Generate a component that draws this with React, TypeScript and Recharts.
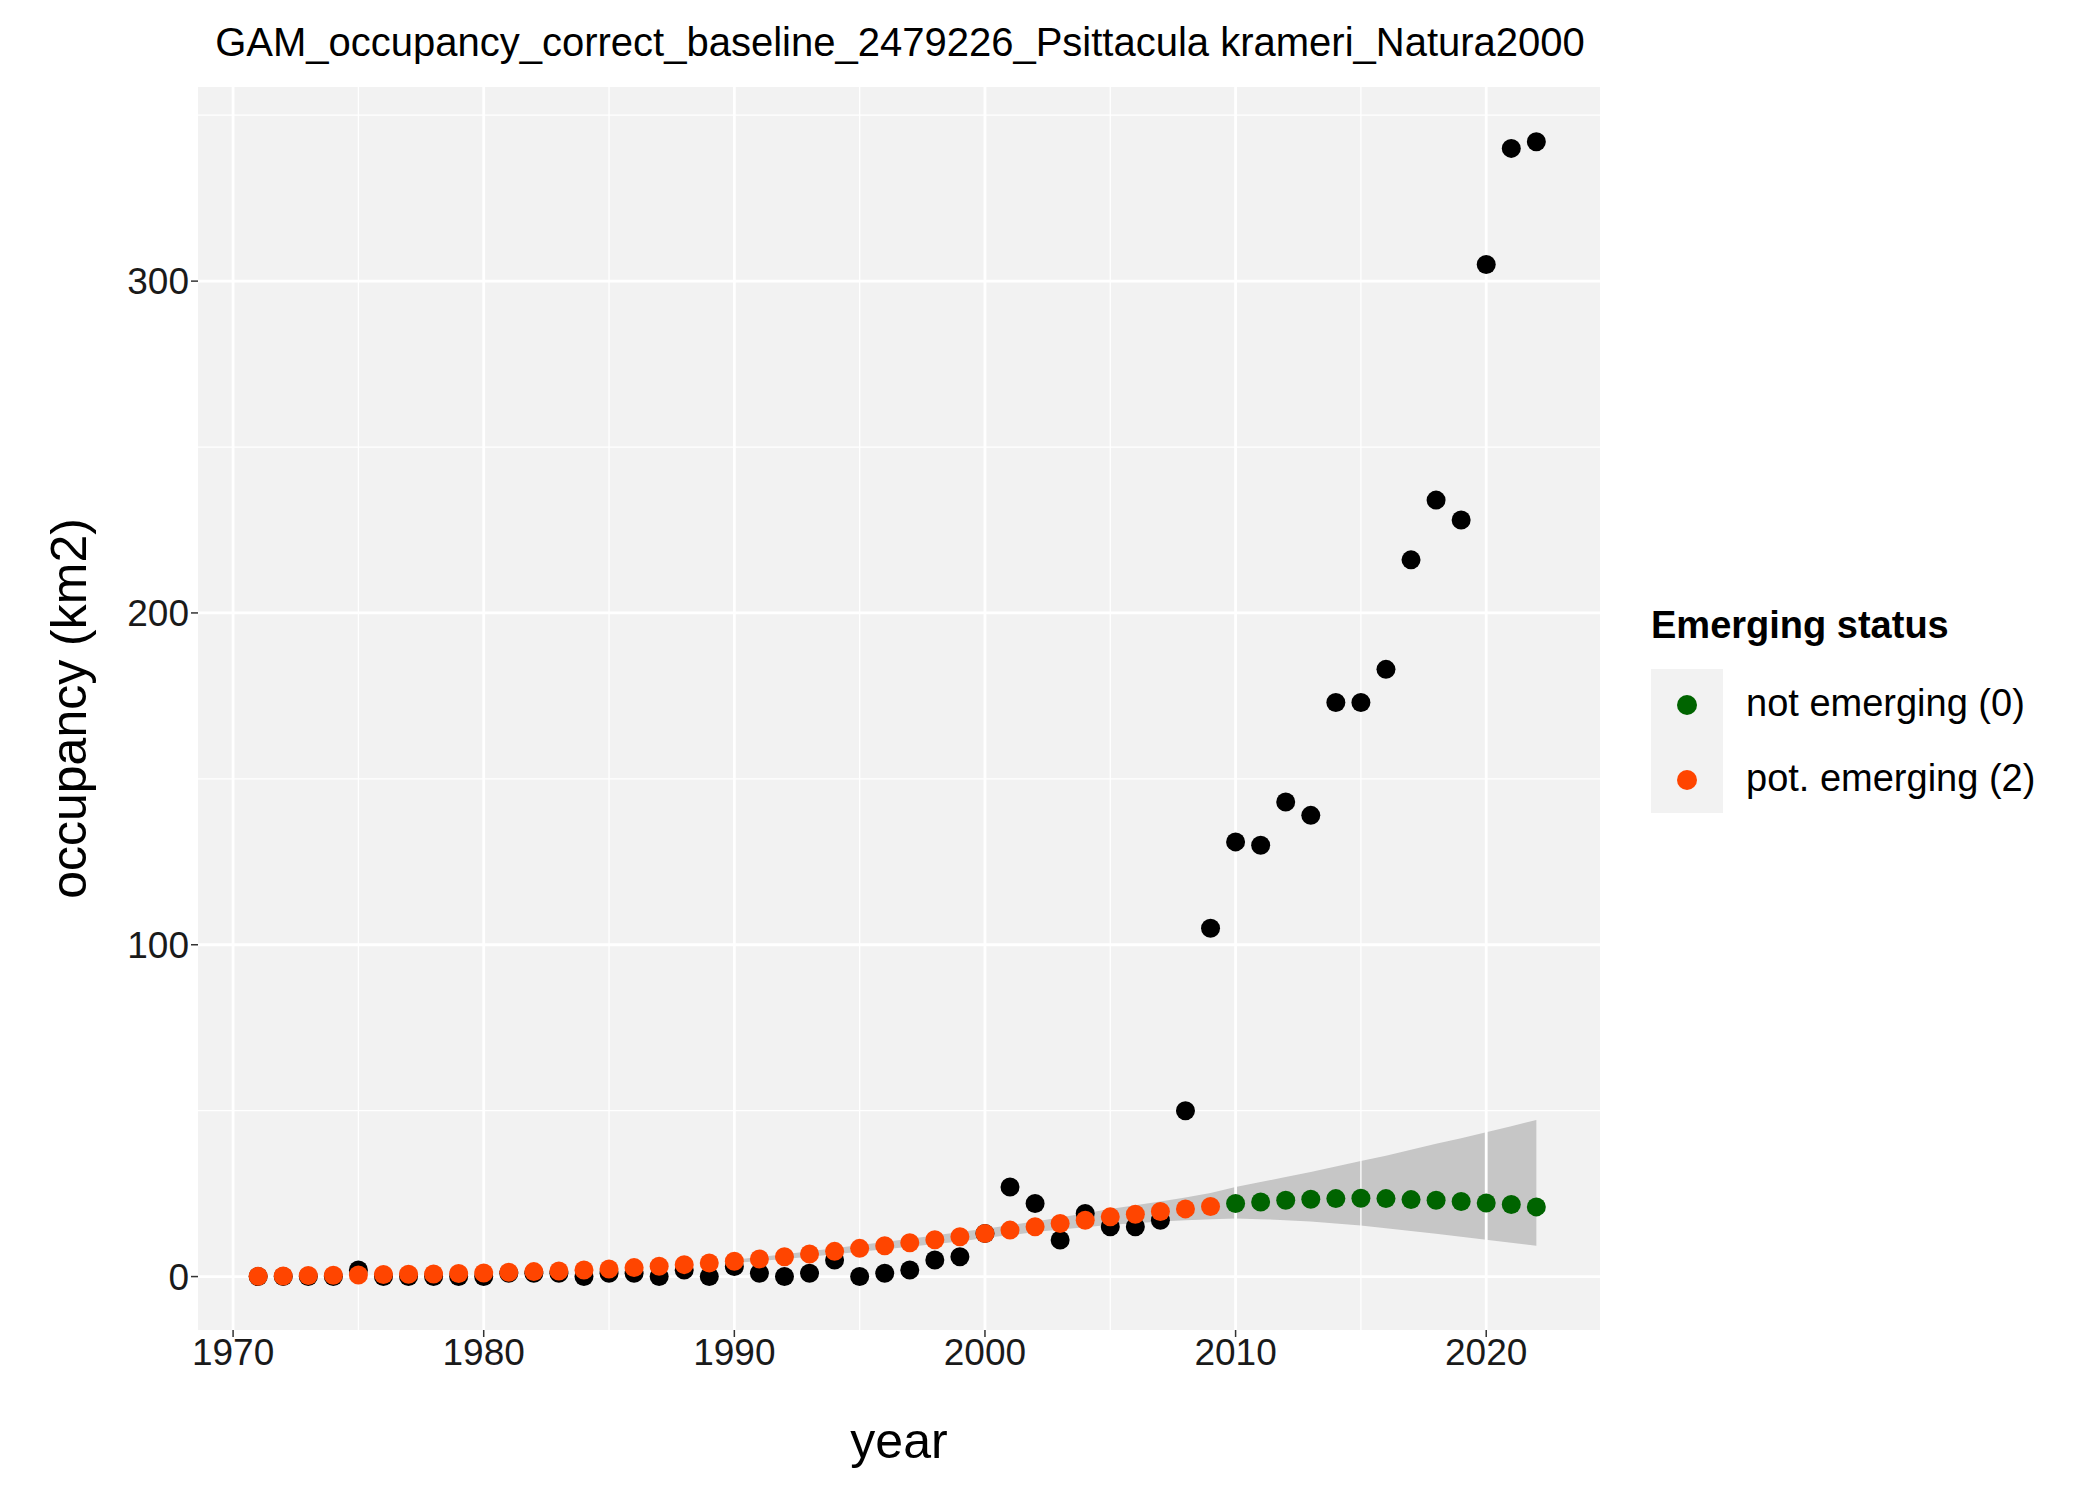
import React from "react";
import {
  ComposedChart,
  Scatter,
  Area,
  XAxis,
  YAxis,
  CartesianGrid,
  ReferenceLine,
} from "recharts";

const years = [
  1971, 1972, 1973, 1974, 1975, 1976, 1977, 1978, 1979, 1980, 1981, 1982, 1983,
  1984, 1985, 1986, 1987, 1988, 1989, 1990, 1991, 1992, 1993, 1994, 1995, 1996,
  1997, 1998, 1999, 2000, 2001, 2002, 2003, 2004, 2005, 2006, 2007, 2008, 2009,
  2010, 2011, 2012, 2013, 2014, 2015, 2016, 2017, 2018, 2019, 2020, 2021, 2022,
];
// observed occupancy
const observed = [
  0, 0, 0, 0, 2, 0, 0, 0, 0, 0, 1, 1, 1,
  0, 1, 1, 0, 2, 0, 3, 1, 0, 1, 5, 0, 1,
  2, 5, 6, 13, 27, 22, 11, 19, 15, 15, 17, 50, 105,
  131, 130, 143, 139, 173, 173, 183, 216, 234, 228, 305, 340, 342,
];
// GAM fit
const fitted = [
  0.1, 0.2, 0.3, 0.4, 0.5, 0.6, 0.7, 0.8, 0.9, 1.1, 1.3, 1.5, 1.7,
  2.0, 2.3, 2.7, 3.1, 3.6, 4.1, 4.6, 5.3, 6.0, 6.8, 7.6, 8.5, 9.3,
  10.2, 11.1, 12.0, 13.0, 14.0, 15.0, 16.0, 17.0, 18.0, 18.8, 19.6, 20.4, 21.1,
  22.0, 22.5, 23.0, 23.3, 23.5, 23.6, 23.5, 23.2, 23.0, 22.6, 22.2, 21.7, 21.0,
];
const ribbonLow = [
  0, 0, 0, 0, 0.1, 0.2, 0.3, 0.4, 0.5, 0.6, 0.8, 1.0, 1.2,
  1.5, 1.8, 2.2, 2.6, 3.1, 3.6, 4.1, 4.7, 5.3, 6.0, 6.7, 7.5, 8.2,
  9.0, 9.8, 10.6, 11.6, 12.5, 13.4, 14.2, 14.9, 15.6, 16.1, 16.6, 17.0, 17.3,
  17.5, 17.3, 17.0, 16.6, 16.0, 15.4, 14.6, 13.7, 12.9, 12.0, 11.1, 10.2, 9.3,
];
const ribbonHigh = [
  0.3, 0.4, 0.6, 0.8, 0.9, 1.0, 1.1, 1.2, 1.3, 1.6, 1.8, 2.0, 2.2,
  2.5, 2.8, 3.2, 3.6, 4.1, 4.6, 5.1, 5.9, 6.7, 7.6, 8.5, 9.5, 10.4,
  11.4, 12.4, 13.4, 14.4, 15.5, 16.6, 17.8, 19.1, 20.4, 21.5, 22.6, 23.8, 25.2,
  27.0, 28.5, 30.0, 31.5, 33.2, 34.8, 36.4, 38.2, 40.0, 41.7, 43.5, 45.3, 47.2,
];
const emergingSwitchYear = 2010;

const yTicks = [0, 100, 200, 300];
const yMinor = [50, 150, 250, 350];
const xTicks = [1970, 1980, 1990, 2000, 2010, 2020];
const xMinor = [1975, 1985, 1995, 2005, 2015];

const table = years.map((y, i) => ({
  year: y,
  obs: observed[i],
  fit: fitted[i],
  band: [ribbonLow[i], ribbonHigh[i]],
}));
const obsPts = table.map((d) => ({ year: d.year, v: d.obs }));
const orangePts = table.filter((d) => d.year < emergingSwitchYear).map((d) => ({ year: d.year, v: d.fit }));
const greenPts = table.filter((d) => d.year >= emergingSwitchYear).map((d) => ({ year: d.year, v: d.fit }));
const ribbonData = table.filter((d) => d.year >= 1990);

const FONT = "'Liberation Sans', Arial, sans-serif";

const dot = (color: string) => (props: any) =>
  <circle cx={props.cx} cy={props.cy} r={9.5} fill={color} />;

export default function App() {
  return (
    <div style={{ position: "absolute", left: 0, top: 0, width: 2100, height: 1499, background: "white", fontFamily: FONT }}>
      <div style={{ position: "absolute", left: 0, width: 1800, top: 20, textAlign: "center", fontSize: 40, color: "#000" }}>
        GAM_occupancy_correct_baseline_2479226_Psittacula krameri_Natura2000
      </div>
      <ComposedChart
        width={2100}
        height={1499}
        data={ribbonData}
        margin={{ top: 87, right: 500, bottom: 29, left: 48 }}
      >
        <CartesianGrid fill="#F2F2F2" stroke="none" />
        <XAxis
          type="number"
          dataKey="year"
          domain={[1968.6, 2024.54]}
          ticks={xTicks}
          height={140}
          tick={{ fill: "#1a1a1a", fontSize: 37, fontFamily: FONT }}
          tickLine={{ stroke: "#333", strokeWidth: 1.5 }}
          axisLine={false}
          tickSize={7}
          allowDataOverflow
          label={{ value: "year", position: "insideBottom", offset: 12, fontSize: 50, fill: "#000", fontFamily: FONT }}
        />
        <YAxis
          type="number"
          domain={[-16.1, 358.5]}
          ticks={yTicks}
          width={150}
          tick={{ fill: "#1a1a1a", fontSize: 37, fontFamily: FONT }}
          tickLine={{ stroke: "#333", strokeWidth: 1.5 }}
          axisLine={false}
          tickSize={7}
          allowDataOverflow
          label={{ value: "occupancy (km2)", angle: -90, position: "insideLeft", offset: 20, fontSize: 50, fill: "#000", fontFamily: FONT, style: { textAnchor: "middle" } }}
        />
        {yMinor.map((v) => (
          <ReferenceLine key={"ym" + v} y={v} stroke="#fff" strokeWidth={1.3} />
        ))}
        {xMinor.map((v) => (
          <ReferenceLine key={"xm" + v} x={v} stroke="#fff" strokeWidth={1.3} />
        ))}
        {yTicks.map((v) => (
          <ReferenceLine key={"y" + v} y={v} stroke="#fff" strokeWidth={2.8} />
        ))}
        {xTicks.map((v) => (
          <ReferenceLine key={"x" + v} x={v} stroke="#fff" strokeWidth={2.8} />
        ))}
        <Area
          dataKey="band"
          stroke="none"
          fill="#999999"
          fillOpacity={0.5}
          type="linear"
          isAnimationActive={false}
        />
        <Scatter data={obsPts} dataKey="v" shape={dot("#000")} isAnimationActive={false} />
        <Scatter data={orangePts} dataKey="v" shape={dot("#FF4500")} isAnimationActive={false} />
        <Scatter data={greenPts} dataKey="v" shape={dot("#006400")} isAnimationActive={false} />
      </ComposedChart>
      <div style={{ position: "absolute", left: 1651, top: 604, fontSize: 38, fontWeight: "bold", color: "#000" }}>
        Emerging status
      </div>
      <div style={{ position: "absolute", left: 1651, top: 669, width: 72, height: 144, background: "#F2F2F2" }} />
      {[
        { label: "not emerging (0)", color: "#006400", y: 705 },
        { label: "pot. emerging (2)", color: "#FF4500", y: 780 },
      ].map((k) => (
        <React.Fragment key={k.label}>
          <div style={{ position: "absolute", left: 1677, top: k.y - 10, width: 20, height: 20, borderRadius: 10, background: k.color }} />
          <div style={{ position: "absolute", left: 1746, top: k.y - 23, fontSize: 38, color: "#000" }}>{k.label}</div>
        </React.Fragment>
      ))}
    </div>
  );
}
